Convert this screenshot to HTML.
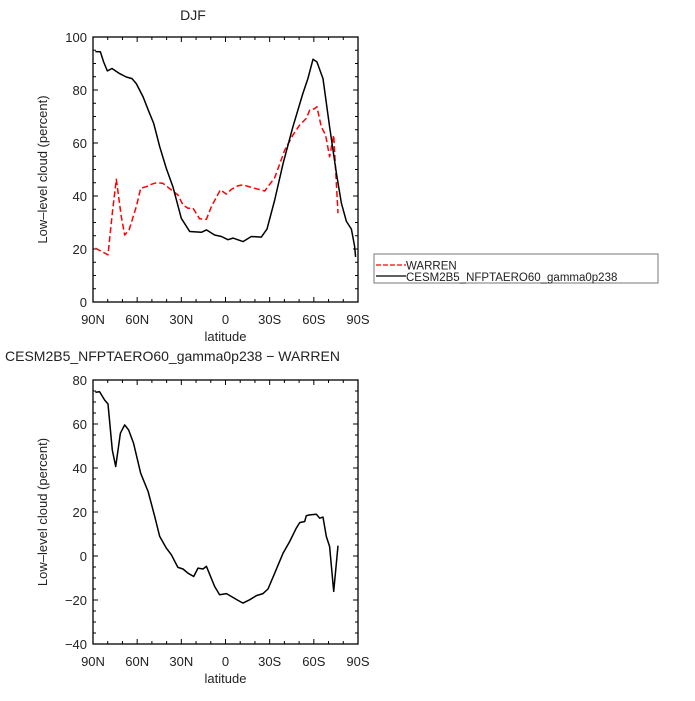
<!DOCTYPE html>
<html><head><meta charset="utf-8"><style>
body{margin:0;background:#fff}
svg text{font-family:"Liberation Sans","DejaVu Sans",sans-serif;fill:#222}
</style></head><body>
<svg id="s" width="695" height="696" xmlns="http://www.w3.org/2000/svg"></svg>
<script>
// Top panel data (latitude in deg, positive = N)
const topModelLat=[88.4,85,82.8,80.3,77.1,71.9,67.4,63.5,60.6,56,52,48.8,44.7,40.2,35.7,30,24.3,16.4,13,7.4,2.8,-1.7,-5.1,-11.9,-17.5,-24.3,-28.2,-33.4,-39.1,-45.8,-52.6,-56,-59.4,-62.1,-66.2,-70.7,-75.3,-78.7,-82.1,-85.5,-87.7,-88.4];
const topModelVal=[94.5,94.4,90.6,87.2,88.1,86.2,84.9,84.3,82.4,77.4,71.8,67.4,58.6,50.4,43.5,31.6,26.6,26.3,27.2,25.3,24.7,23.5,24.1,22.8,24.7,24.5,27.5,38.5,52.3,66.1,78.7,84.3,91.6,90.6,84.3,66.1,48.6,37.3,30.4,27.5,21,17];
const topObsLat=[88.4,79.8,76.9,74.2,70.8,68.5,65.5,60.6,57.6,53.8,50.4,47,42.5,36.8,32.3,28.9,25.5,22.1,17.6,13,9.6,3.5,-0.6,-4,-8.5,-11.9,-19.8,-26.6,-33.4,-40.2,-45.8,-50.4,-54.9,-57.2,-60.6,-62.1,-65.1,-68,-70.7,-73.5,-76.4];
const topObsVal=[20.3,17.8,33.5,46.3,32.2,25.3,27.2,36,42.9,43.5,44.4,45,44.8,42.3,40.4,36.6,35.4,35.4,31.4,31.2,36,42.3,40.7,42.5,43.9,44.2,42.9,41.9,46.9,57.3,63,66.8,69.3,72.4,73,73.7,66.1,63,54.8,63,33.5];
const diffLat=[88.4,85.5,82.1,79.8,76.9,74.6,71.4,68.5,65.8,62.4,57.6,52.6,48.1,44.7,40.2,36.8,32.3,28.9,25.5,21.6,18.7,15.3,13,7.4,4,-0.6,-4,-8.5,-11.9,-16.4,-21,-25.5,-28.9,-33.4,-39.1,-43.6,-48.1,-50.4,-53.8,-54.9,-57.2,-61.7,-64,-66.2,-68.5,-70.7,-73.5,-76.4];
const diffVal=[74.4,74.7,70.9,69.1,48.2,40.7,55.8,59.6,57.3,51.2,37.6,29.3,18,8.9,3.6,0.6,-5.2,-5.9,-7.8,-9.3,-5.5,-5.9,-4.7,-13.8,-17.6,-17.1,-18.4,-20.2,-21.4,-19.9,-18,-17.1,-15,-7.8,1.3,6.6,12.7,15.2,15.7,18.3,18.7,19,17.2,17.7,8.9,4.3,-16.1,4.7];
const xTickLat=[90,60,30,0,-30,-60,-90];
const xTickLabels=["90N","60N","30N","0","30S","60S","90S"];
const topYTicks=[0,20,40,60,80,100];
const botYTicks=[-40,-20,0,20,40,60,80];

const NS="http://www.w3.org/2000/svg";
const svg=document.getElementById('s');
function mk(tag,attrs,parent){const e=document.createElementNS(NS,tag);for(const k in attrs)e.setAttribute(k,attrs[k]);(parent||svg).appendChild(e);return e;}
const X0=93,X1=358;
function xs(lat){return X0+(90-lat)/180*(X1-X0);}

function panel(name,yT,yB,vmin,vmax,yticks,minorStep){
  const g=mk('g',{});
  
  
  const ys=v=>yB-(v-vmin)/(vmax-vmin)*(yB-yT);
  const frame=mk('rect',{x:X0,y:yT,width:X1-X0,height:yB-yT,fill:'none',stroke:'#000','stroke-width':1.3},g);
  
  
  for(let v=vmin;v<=vmax;v+=minorStep){const y=ys(v);const maj=yticks.includes(v);const L=maj?5:3;
    mk('line',{x1:X0,x2:X0+L,y1:y,y2:y,stroke:'#000'},g);mk('line',{x1:X1,x2:X1-L,y1:y,y2:y,stroke:'#000'},g);}
  for(let lat=90;lat>=-90;lat-=10){const x=xs(lat);const maj=lat%30===0;const L=maj?5:3;
    mk('line',{x1:x,x2:x,y1:yB,y2:yB-L,stroke:'#000'},g);mk('line',{x1:x,x2:x,y1:yT,y2:yT+L,stroke:'#000'},g);}
  yticks.forEach(v=>{const t=mk('text',{x:X0-6,y:ys(v)+5,'text-anchor':'end','font-size':13},g);t.textContent=(v<0?'\u2212'+(-v):v);
    });
  xTickLat.forEach((lat,i)=>{const t=mk('text',{x:xs(lat),y:yB+22,'text-anchor':'middle','font-size':13},g);t.textContent=xTickLabels[i];
    });
  const xt=mk('text',{x:(X0+X1)/2,y:yB+39,'text-anchor':'middle','font-size':13},g);xt.textContent='latitude';
  
  const cy=(yT+yB)/2;
  const yt=mk('text',{x:47,y:cy,'text-anchor':'middle','font-size':13,transform:`rotate(-90 47 ${cy})`},g);yt.textContent='Low\u2013level cloud (percent)';
  
  return {g,ys};
}
function line(p,lats,vals,color,dash,name){
  const d=lats.map((l,i)=>(i?'L':'M')+xs(l).toFixed(1)+' '+p.ys(vals[i]).toFixed(1)).join(' ');
  const a={d,fill:'none',stroke:color,'stroke-width':1.5,'stroke-linejoin':'round'};if(dash)a['stroke-dasharray']=dash;
  const e=mk('path',a,p.g);
  
  
}
const p1=panel('top-panel',37,302,0,100,topYTicks,5);
line(p1,topObsLat,topObsVal,'#f00','6 3','warren-line');
line(p1,topModelLat,topModelVal,'#000',null,'model-line');
const t1=mk('text',{x:193,y:20,'text-anchor':'middle','font-size':14});t1.textContent='DJF';


const p2=panel('bottom-panel',380,644,-40,80,botYTicks,5);
line(p2,diffLat,diffVal,'#000',null,'difference-line');
const t2=mk('text',{x:5,y:361,'font-size':14});t2.textContent='CESM2B5_NFPTAERO60_gamma0p238 \u2212 WARREN';


// legend
const lg=mk('g',{});


mk('rect',{x:374,y:254,width:284,height:29,fill:'#fff',stroke:'#777'},lg);
mk('line',{x1:376,x2:406,y1:265,y2:265,stroke:'#f00','stroke-width':1.3,'stroke-dasharray':'5 2'},lg);
mk('line',{x1:376,x2:406,y1:276,y2:276,stroke:'#000','stroke-width':1.3},lg);
const l1=mk('text',{x:406,y:269.5,'font-size':11.5},lg);l1.textContent='WARREN';

const l2=mk('text',{x:406,y:281,'font-size':11.5},lg);l2.textContent='CESM2B5_NFPTAERO60_gamma0p238';

</script>
</body></html>
